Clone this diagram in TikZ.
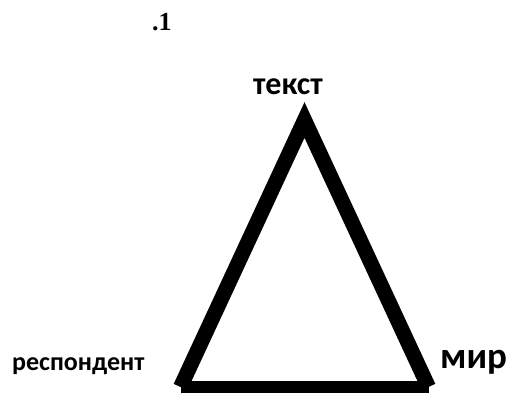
\documentclass[tikz,border=0pt]{standalone}
\usepackage{fontspec}
\setmainfont{Liberation Serif}
\newfontfamily\labelfont{Carlito}
\usetikzlibrary{positioning}

\begin{document}
\begin{tikzpicture}[x=1pt,y=-1pt,
  side/.style={line width=15pt,line join=miter},
  bottom/.style={line width=12pt},
  lbl/.style={font=\labelfont\bfseries\fontsize{#1}{#1}\selectfont,
              inner sep=0pt,anchor=base west},
]
\useasboundingbox (0,0) rectangle (511,398);
\coordinate (apex) at (304.5,120);
\coordinate (bl)   at (180.5,387);
\coordinate (br)   at (428.5,387);

\node[font=\bfseries\fontsize{26}{30}\selectfont,inner sep=0pt,anchor=base west]
  (num) at (152,31) {.1};
\node[lbl=32] (tekst) at (253,95)  {текст};
\node[lbl=26] (resp)  at (12,370)  {респондент};
\node[lbl=37] (mir)   at (440,368) {мир};

\draw[side]   (bl) -- (apex) -- (br);
\draw[bottom] (bl) -- (br);
\end{tikzpicture}
\end{document}
